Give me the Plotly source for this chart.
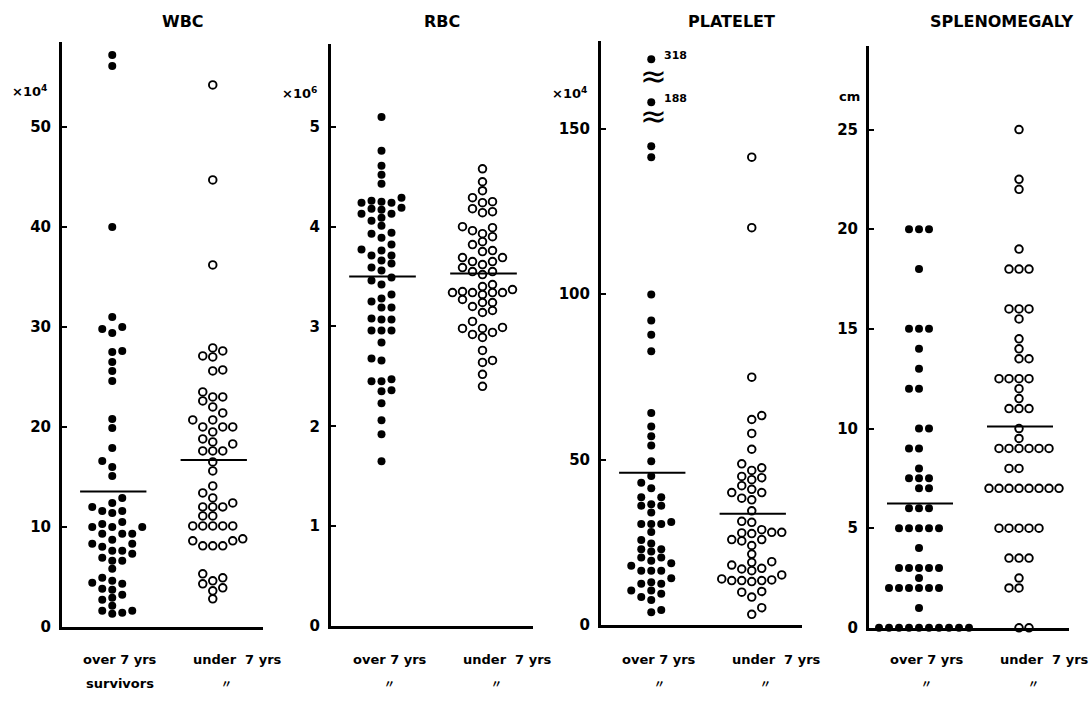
import numpy as np
import plotly.graph_objects as go

# ---- data -----------------------------------------------------------------
groups = ["over 7 yrs", "under  7 yrs"]
second_row = [["survivors", "〃"], ["〃", "〃"], ["〃", "〃"], ["〃", "〃"]]

wbc_over = [57.2, 56.1, 40.0, 31.0, 30.0, 29.8, 29.4, 27.6, 27.5, 26.5, 25.6, 24.6,
            20.8, 19.9, 17.9, 16.6, 16.0, 15.1, 12.9, 12.4, 12.0, 11.6, 11.4, 11.6,
            10.0, 10.0, 10.5, 10.3, 10.0, 9.3, 9.3, 9.3, 8.3, 8.3, 8.7, 7.6, 7.3, 8.0,
            7.6, 6.9, 6.6, 6.6, 5.8, 4.4, 4.6, 4.9, 4.3, 3.8, 3.2, 3.7, 2.9, 2.7, 2.1,
            1.3, 1.6, 1.6, 1.4]
wbc_under = [54.2, 44.7, 36.2, 27.9, 27.6, 27.0, 27.1, 25.6, 25.7, 23.5, 23.0, 23.0,
             22.6, 22.0, 21.4, 20.7, 20.7, 20.0, 20.0, 20.0, 19.5, 18.8, 18.3, 18.5,
             17.6, 17.6, 17.6, 16.5, 15.6, 14.1, 13.4, 12.9, 12.0, 12.4, 12.0, 12.0,
             11.1, 11.1, 10.1, 10.1, 10.1, 10.1, 10.1, 8.6, 8.6, 8.1, 8.1, 8.1, 8.8,
             4.9, 5.3, 4.6, 3.9, 4.3, 3.6, 2.8]
wbc_means = [13.55, 16.7]

rbc_over = [5.10, 4.76, 4.61, 4.52, 4.43, 4.29, 4.25, 4.24, 4.26, 4.24, 4.19, 4.13,
            4.18, 4.17, 4.13, 4.09, 4.06, 4.01, 3.93, 3.94, 3.89, 3.82, 3.76, 3.77,
            3.71, 3.71, 3.66, 3.59, 3.63, 3.56, 3.49, 3.46, 3.42, 3.32, 3.28, 3.25,
            3.19, 3.19, 3.07, 3.08, 3.07, 2.96, 2.96, 2.96, 2.84, 2.68, 2.66, 2.45,
            2.47, 2.45, 2.36, 2.35, 2.23, 2.06, 1.92, 1.65]
rbc_under = [4.58, 4.45, 4.36, 4.29, 4.25, 4.24, 4.18, 4.15, 4.14, 3.93, 3.99, 4.00,
             3.96, 3.90, 3.85, 3.82, 3.75, 3.76, 3.69, 3.65, 3.69, 3.65, 3.62, 3.59,
             3.52, 3.55, 3.55, 3.42, 3.40, 3.34, 3.35, 3.34, 3.32, 3.37, 3.34, 3.34,
             3.24, 3.27, 3.24, 3.16, 3.20, 3.14, 3.05, 2.94, 2.99, 2.98, 2.89, 2.98,
             2.92, 2.76, 2.64, 2.66, 2.52, 2.40]
rbc_means = [3.50, 3.53]

plt_over = [318, 188, 144.7, 141.4, 99.9, 92.0, 87.7, 82.7, 64.1, 60.0, 57.0, 54.2,
            49.5, 45.0, 43.0, 41.3, 38.6, 38.6, 36.5, 36.0, 36.0, 34.0, 30.5, 31.1,
            30.5, 30.5, 28.1, 25.7, 24.6, 22.9, 22.9, 22.2, 20.4, 20.4, 19.4, 18.6,
            17.9, 16.4, 16.4, 16.4, 14.1, 12.4, 12.4, 12.9, 9.4, 10.4, 10.4, 8.4,
            7.5, 4.5, 3.8]
plt_under = [141.4, 120.1, 74.9, 62.1, 63.3, 57.9, 53.1, 47.5, 48.7, 46.7, 44.9, 44.5,
             43.9, 42.1, 41.0, 40.0, 40.0, 38.3, 37.8, 34.5, 31.0, 31.3, 28.0, 28.0,
             28.8, 27.6, 27.8, 25.4, 25.8, 25.8, 24.0, 21.4, 18.9, 19.1, 18.1, 17.1,
             16.4, 16.9, 15.1, 13.6, 13.1, 13.4, 13.9, 13.4, 13.4, 10.1, 9.9, 8.4,
             5.2, 3.2]
plt_means = [46.0, 33.6]
# segments of the platelet axis that are cut out (axis breaks)
plt_breaks = [(154, 184), (196, 313)]

spl_over = [20, 20, 20, 18, 15, 15, 15, 14, 13, 12, 12, 10, 10, 9, 9, 8,
            7.5, 7.5, 7.5, 7, 7, 6, 6, 6, 5, 5, 5, 5, 5, 4, 3, 3, 3, 3, 3, 2.5,
            2, 2, 2, 2, 2, 2, 1, 0, 0, 0, 0, 0, 0, 0, 0, 0, 0]
spl_under = [25, 22.5, 22, 19, 18, 18, 18, 16, 16, 16, 15.5, 14.5, 14, 13.5, 13.5,
             12.5, 12.5, 12.5, 12.5, 12, 11.5, 11, 11, 11, 10, 9.5, 9, 9, 9, 9, 9, 9,
             8, 8, 7, 7, 7, 7, 7, 7, 7, 7, 5, 5, 5, 5, 5, 3.5, 3.5, 3.5, 2.5, 2, 2,
             0, 0]
spl_means = [6.24, 10.1]

W, H = 1091, 702
FONT = "DejaVu Sans"


def identity(v):
    return v


def broken_axis(v, breaks=plt_breaks):
    """Position of a value on an axis with the given segments removed."""
    pos = v
    for lo, hi in breaks:
        if v >= hi:
            pos -= (hi - lo)
    return pos


panels = [
    dict(title="WBC", unit="×10<sup>4</sup>", data=(wbc_over, wbc_under), means=wbc_means,
         ticks=[0, 10, 20, 30, 40, 50], px=(62, 263), py=(43, 635), ymax=58.45,
         title_x=183, unit_xy=(29, 92), fmap=identity),
    dict(title="RBC", unit="×10<sup>6</sup>", data=(rbc_over, rbc_under), means=rbc_means,
         ticks=[0, 1, 2, 3, 4, 5], px=(331, 533), py=(45, 634), ymax=5.826,
         title_x=442, unit_xy=(299, 94), fmap=identity),
    dict(title="PLATELET", unit="×10<sup>4</sup>", data=(plt_over, plt_under), means=plt_means,
         ticks=[0, 50, 100, 150], px=(601, 802), py=(42, 633), ymax=176.4,
         title_x=731, unit_xy=(569, 94), fmap=broken_axis),
    dict(title="SPLENOMEGALY", unit="cm", data=(spl_over, spl_under), means=spl_means,
         ticks=[0, 5, 10, 15, 20, 25], px=(869, 1069), py=(47, 636), ymax=29.17,
         title_x=1002, unit_xy=(849, 98), fmap=identity),
]


def swarm(pos_px, col_px=10.0, min_sep=7.4):
    """Greedy beeswarm: assign each point a column so dots do not overlap."""
    order = np.argsort(pos_px, kind="stable")
    placed = {}
    cols = np.zeros(len(pos_px), dtype=int)
    left = right = 0
    for i in order:
        y = pos_px[i]
        k = 0
        while True:
            cands = [0] if k == 0 else ([k, -k] if right <= left else [-k, k])
            free = [c for c in cands
                    if all(abs(y - yy) >= min_sep for yy in placed.get(c, []))]
            if free:
                c = free[0]
                break
            k += 1
        placed.setdefault(c, []).append(y)
        cols[i] = c
        if c > 0:
            right += 1
        elif c < 0:
            left += 1
    return cols * col_px


fig = go.Figure()
annotations = []
shapes = []
XR = (0.5, 2.5)
ROW1_Y = 1 - 668 / H
ROW2_Y = 1 - 692 / H

for n, p in enumerate(panels, start=1):
    xa = "x" if n == 1 else f"x{n}"
    ya = "y" if n == 1 else f"y{n}"
    x0, x1 = p["px"]
    ytop, ybot = p["py"]
    ppu_y = (ybot - ytop) / p["ymax"]
    ppu_x = (x1 - x0) / (XR[1] - XR[0])

    for g, vals in enumerate(p["data"]):
        centre = g + 1
        pos = np.array([p["fmap"](v) for v in vals], dtype=float)
        off = swarm(pos * ppu_y)
        filled = g == 0
        fig.add_trace(go.Scatter(
            x=centre + off / ppu_x, y=pos, xaxis=xa, yaxis=ya, mode="markers",
            cliponaxis=False, showlegend=False, hoverinfo="skip",
            marker=dict(size=8 if filled else 7.6,
                        color="black" if filled else "white",
                        line=dict(color="black", width=0 if filled else 1.9)),
        ))
        # group mean
        m = p["fmap"](p["means"][g])
        shapes.append(dict(type="line", xref=xa, yref=ya, x0=centre - 0.32,
                           x1=centre + 0.34, y0=m, y1=m,
                           line=dict(color="black", width=2)))
        # category labels
        annotations.append(dict(x=centre, y=ROW1_Y, xref=xa, yref="paper",
                                xanchor="center", yanchor="middle",
                                xshift=8 if g == 0 else 25, text=groups[g],
                                showarrow=False,
                                font=dict(size=13, family=FONT, color="black",
                                          weight="bold")))
        txt = second_row[n - 1][g]
        is_word = txt == "survivors"
        annotations.append(dict(x=centre, y=ROW2_Y, xref=xa, yref="paper",
                                xanchor="center", yanchor="middle",
                                xshift=8 if g == 0 else 14,
                                text=txt, showarrow=False,
                                font=dict(size=13 if is_word else 11,
                                          family=FONT if is_word else "Noto Sans CJK JP",
                                          color="black", weight="bold")))

    # values beyond the platelet axis breaks are labelled with their value
    if p["fmap"] is broken_axis:
        for lo, hi in plt_breaks:
            annotations.append(dict(x=1, y=broken_axis(lo), xref=xa, yref=ya, xshift=2,
                                    xanchor="center", yanchor="middle",
                                    text="≈", showarrow=False,
                                    font=dict(size=32, family=FONT, color="black")))
        for v in p["data"][0]:
            if v > plt_breaks[0][0]:
                annotations.append(dict(x=1, y=broken_axis(v), xref=xa, yref=ya,
                                        xshift=11, yshift=4, xanchor="left",
                                        yanchor="middle",
                                        text=f"{v:g}", showarrow=False,
                                        font=dict(size=11, family=FONT, color="black",
                                                  weight="bold")))

    dom_x = [x0 / W, x1 / W]
    dom_y = [1 - ybot / H, 1 - ytop / H]
    fig.update_layout(**{
        ("xaxis" if n == 1 else f"xaxis{n}"): dict(
            domain=dom_x, range=list(XR), showgrid=False, zeroline=False,
            showticklabels=False, ticks="", showline=True, linecolor="black",
            linewidth=3, fixedrange=True, anchor=ya),
        ("yaxis" if n == 1 else f"yaxis{n}"): dict(
            domain=dom_y, range=[0, p["ymax"]], showgrid=False, zeroline=False,
            tickmode="array", tickvals=p["ticks"], ticktext=[str(t) for t in p["ticks"]],
            ticks="inside", ticklen=5, tickwidth=2, tickcolor="black",
            ticklabelstandoff=5, showline=True, linecolor="black", linewidth=3,
            tickfont=dict(size=15, family=FONT, color="black", weight="bold"),
            fixedrange=True, anchor=xa),
    })

    annotations.append(dict(x=p["title_x"] / W, y=1 - 22 / H, xref="paper", yref="paper",
                            xanchor="center", yanchor="middle",
                            text=p["title"], showarrow=False,
                            font=dict(size=16, family=FONT, color="black", weight="bold")))
    ux, uy = p["unit_xy"]
    annotations.append(dict(x=ux / W, y=1 - uy / H, xref="paper", yref="paper",
                            xanchor="center", yanchor="middle",
                            text=p["unit"], showarrow=False,
                            font=dict(size=13, family=FONT, color="black", weight="bold")))

fig.update_layout(width=W, height=H, margin=dict(l=0, r=0, t=0, b=0),
                  paper_bgcolor="white", plot_bgcolor="white",
                  annotations=annotations, shapes=shapes, showlegend=False)

fig.write_html("out.html")
